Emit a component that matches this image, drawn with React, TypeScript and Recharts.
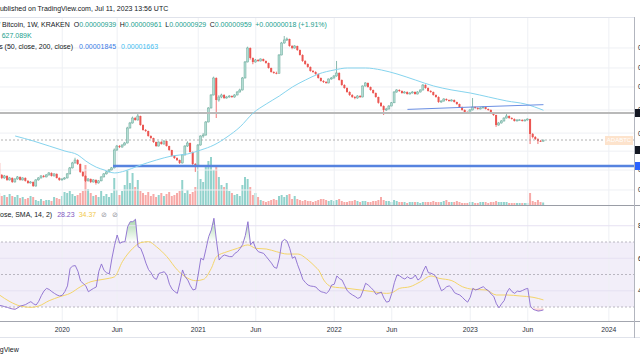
import {
  Area,
  Bar,
  Cell,
  ComposedChart,
  Line,
  ReferenceArea,
  ReferenceLine,
  XAxis,
  YAxis,
} from "recharts";

const FONT = '"Liberation Sans", Arial, sans-serif';
const TEXT = "#131722";
const TEAL = "#22a08e";
const GRID = "#eef0f4";

// weekly ADA/BTC bars, 2019-07-15 .. 2023-07-10, prices in satoshi
const FIRST_OPEN = 627;
const closes = [
  502, 475, 493, 458, 475, 441, 466, 484, 458, 475,
  450, 433, 441, 409, 458, 475, 493, 484, 502, 521,
  493, 512, 475, 458, 466, 475, 512, 572, 627, 662,
  615, 531, 493, 450, 466, 441, 458, 433, 450, 484,
  512, 531, 551, 572, 797, 858, 842, 874, 907, 1198,
  1314, 1441, 1389, 1496, 1266, 1154, 1133, 1033, 995, 924,
  858, 924, 890, 941, 858, 797, 714, 687, 662, 627,
  727, 858, 907, 768, 615, 593, 874, 1033, 1052, 1339,
  1735, 2207, 3024, 2012, 2127, 2207, 2088, 2127, 2166, 2127,
  2207, 2333, 2421, 3024, 4067, 5271, 4379, 4067, 4220, 4143,
  4299, 4143, 3993, 3639, 3380, 3318, 3300, 4630, 5782, 6112,
  6226, 5470, 5271, 5470, 5079, 4630, 4143, 3919, 3710, 3443,
  3380, 3257, 3024, 2861, 2808, 2757, 2968, 3024, 3138, 3318,
  2914, 2656, 2512, 2333, 2207, 2127, 2088, 2166, 2127, 2607,
  2757, 2559, 2421, 2290, 2127, 1909, 1800, 1672, 1703, 1800,
  1909, 2333, 2421, 2377, 2290, 2333, 2248, 2290, 2333, 2248,
  2333, 2421, 2656, 2512, 2377, 2333, 2207, 2127, 1939, 1975,
  2050, 2012, 1975, 2012, 1939, 1868, 1767, 1672, 1611, 1581,
  1672, 1767, 1735, 1703, 1735, 1767, 1703, 1672, 1581, 1524,
  1266, 1314, 1364, 1441, 1496, 1441, 1415, 1364, 1389, 1392,
  1364, 1389, 1415, 1072, 1014, 977, 941, 939, 959,
];
const highs = [
  650, 510, 502, 498, 484, 480, 472, 492, 488, 482,
  480, 455, 448, 445, 464, 482, 500, 502, 510, 530,
  526, 518, 516, 480, 472, 482, 520, 582, 640, 690,
  672, 620, 538, 498, 474, 470, 464, 462, 456, 490,
  520, 540, 560, 582, 820, 875, 872, 885, 925, 1225,
  1340, 1480, 1470, 1581, 1505, 1280, 1175, 1140, 1045, 1000,
  930, 935, 940, 955, 948, 862, 800, 722, 695, 668,
  738, 870, 935, 915, 775, 625, 890, 1045, 1090, 1360,
  1760, 2240, 3100, 3060, 2200, 2260, 2240, 2170, 2200, 2190,
  2240, 2370, 2480, 3080, 4140, 5400, 5320, 4420, 4300, 4290,
  4350, 4330, 4180, 4020, 3660, 3420, 3400, 4700, 5900, 6580,
  6400, 6260, 5560, 5560, 5500, 5120, 4680, 4200, 3960, 3740,
  3500, 3420, 3280, 3050, 2900, 2850, 3000, 3080, 3190, 4143,
  3360, 2940, 2690, 2540, 2360, 2240, 2160, 2200, 2200, 2640,
  2800, 2780, 2580, 2440, 2310, 2140, 1930, 1820, 1740, 1830,
  1940, 2370, 2460, 2450, 2400, 2370, 2360, 2330, 2370, 2360,
  2370, 2450, 2700, 2690, 2540, 2410, 2350, 2230, 2150, 2000,
  2080, 2070, 2030, 2040, 2030, 1950, 1880, 1780, 1690, 1630,
  1700, 2088, 1790, 1760, 1760, 1790, 1780, 1720, 1690, 1600,
  1530, 1340, 1390, 1460, 1581, 1510, 1460, 1430, 1410, 1410,
  1405, 1410, 1430, 1420, 1090, 1030, 990, 960, 961,
];
const lows = [
  490, 465, 468, 450, 452, 433, 436, 460, 452, 452,
  444, 426, 428, 402, 405, 452, 470, 478, 480, 497,
  488, 488, 470, 450, 452, 460, 470, 508, 566, 620,
  605, 522, 484, 440, 444, 432, 436, 420, 428, 446,
  480, 506, 526, 546, 566, 785, 826, 832, 866, 900,
  1185, 1300, 1370, 1375, 1250, 1140, 1115, 1020, 980, 910,
  845, 850, 880, 882, 850, 785, 705, 676, 650, 615,
  620, 720, 845, 760, 600, 531, 585, 865, 1000, 1040,
  1330, 1720, 2190, 1441, 1950, 2080, 2050, 2060, 2100, 2090,
  2100, 2190, 2310, 2400, 3000, 4040, 4250, 3900, 4020, 4080,
  4100, 4100, 3940, 3600, 3340, 3270, 3240, 3290, 4600, 5700,
  6000, 5400, 5150, 5200, 5000, 4580, 4080, 3860, 3660, 3400,
  3330, 3210, 2990, 2830, 2760, 2720, 2740, 2930, 2990, 3100,
  2880, 2620, 2480, 2300, 2170, 2090, 2040, 2060, 2090, 2110,
  2580, 2530, 2390, 2260, 2100, 1880, 1770, 1524, 1640, 1690,
  1790, 1900, 2300, 2340, 2260, 2270, 2220, 2230, 2270, 2220,
  2230, 2310, 2400, 2480, 2350, 2300, 2180, 2100, 1910, 1910,
  1950, 1980, 1950, 1960, 1920, 1840, 1740, 1650, 1590, 1560,
  1570, 1660, 1710, 1680, 1690, 1720, 1690, 1650, 1560, 1500,
  1223, 1250, 1300, 1350, 1430, 1420, 1400, 1350, 1355, 1370,
  1350, 1355, 1375, 890, 990, 960, 890, 925, 929,
];
// volume in thousands
const volumesK = [
  3000, 2250, 2500, 2000, 2750, 2250, 2000, 2500, 1750, 2000,
  1500, 1750, 2250, 2000, 1250, 1000, 1500, 1000, 1250, 1250,
  1000, 2000, 1750, 1500, 2250, 3250, 3000, 3500, 2750, 2250,
  2500, 3000, 3500, 10000, 4000, 3000, 2250, 2500, 2000, 3500,
  2250, 2750, 2000, 3000, 6750, 3750, 2500, 3500, 5000, 8750,
  5500, 8000, 4500, 6250, 3500, 3000, 2500, 3250, 2250, 2750,
  2000, 2500, 3000, 2250, 2750, 3250, 2250, 2500, 3000, 3500,
  6250, 3000, 3750, 2750, 3250, 4500, 10500, 6500, 5750, 9500,
  11000, 12000, 8750, 10000, 7000, 5000, 4500, 5500, 3500, 3000,
  2500, 2750, 2250, 5000, 7000, 6500, 4500, 2500, 3000, 2000,
  1250, 1000, 750, 1000, 1250, 1500, 1250, 2250, 2500, 2000,
  2500, 2750, 1500, 2250, 1500, 1250, 1000, 1250, 1000, 1000,
  750, 1000, 1250, 1500, 1500, 1250, 1000, 1250, 1000, 1250,
  1500, 1000, 750, 750, 1000, 1000, 1250, 1000, 750, 1000,
  1000, 750, 750, 1000, 1000, 1250, 2000, 1250, 1000, 1000,
  750, 1250, 1000, 750, 750, 750, 500, 750, 750, 750,
  750, 500, 750, 750, 750, 750, 1000, 750, 750, 750,
  1000, 1250, 750, 750, 750, 1000, 750, 500, 500, 500,
  750, 750, 500, 500, 750, 750, 750, 500, 750, 750,
  1000, 750, 750, 750, 750, 500, 500, 500, 500, 500,
  500, 500, 500, 3000, 1000, 750, 1250, 750, 627.089,
];
const rsi14 = [
  31, 30.7, 30.2, 29.8, 29.2, 28.8, 28.6, 29.5, 30.6, 31,
  31.5, 32.5, 33.3, 32, 31.2, 33.5, 37, 39.8, 41.5, 40.8,
  39.5, 38.4, 37.4, 36.8, 37.2, 39.5, 43, 53.8, 55.2, 55.5,
  52, 46, 44.5, 43, 39.4, 40.5, 41.5, 42.3, 52, 56.5,
  52.5, 51, 50.5, 60, 68, 74.3, 69.2, 70, 70.2, 79.4,
  82.5, 82.5, 84, 67.1, 66.1, 62, 57, 53, 51, 48,
  47, 50.7, 51.2, 51.7, 49.7, 44, 41, 39.5, 38.4, 45,
  52.8, 48.6, 46.6, 43, 40.5, 41, 50, 60, 59, 66,
  73.3, 77.4, 84.6, 70.2, 58.9, 61, 62, 61.5, 61, 61,
  63, 64, 66, 68.5, 74, 82.5, 68.2, 70.2, 66, 64,
  63.5, 63, 61, 59, 57, 54.5, 53.8, 60, 70.2, 71.6,
  70.5, 66, 60, 61, 56, 51.7, 47, 45, 43.5, 42.9,
  42.7, 42.3, 40.5, 39.4, 39, 38.4, 40, 43.5, 44, 49.1,
  47.5, 46.6, 43.2, 40, 38.5, 37.4, 36.5, 35.3, 36, 40,
  44.6, 43.5, 42, 40.3, 37.8, 38.5, 39.2, 35.5, 33, 33.5,
  38.4, 45, 49.7, 49.2, 48, 47.2, 48.6, 47.5, 47.8, 49.7,
  46.6, 47.8, 52, 55.2, 51.1, 50.8, 50, 48.6, 44, 40,
  41, 42.5, 43, 41.5, 38.8, 38, 37.4, 36, 34.3, 33,
  36, 41.5, 40.5, 41, 41.8, 42.5, 41, 40, 38, 36.5,
  32, 29.5, 32, 34, 39, 41.5, 39.4, 38.4, 39.8, 39.5,
  40.2, 41, 41.5, 30.6, 28.6, 28, 27.5, 27.8, 28.23,
];

// averages as [bar, value]
const maSlow = [
  [6, 1033], [13, 941], [19, 858], [25, 782], [30, 727], [33, 650], [37, 580],
  [40, 551], [44, 521], [48, 541], [53, 593], [60, 662], [66, 714], [72, 741],
  [77, 797], [82, 874], [87, 1014], [92, 1223], [97, 1581], [102, 1868],
  [107, 2166], [112, 2559], [117, 2914], [122, 3257], [128, 3507], [133, 3639],
  [140, 3639], [146, 3507], [152, 3257], [159, 2914], [166, 2607], [173, 2421],
  [180, 2290], [187, 2127], [194, 1975], [201, 1868], [208, 1663],
];
const maFast = [[156, 1690], [182, 1770], [208, 1845]];
const rsiMa = [
  [0, 37.4], [4, 33.3], [8, 30.6], [12, 29.8], [15, 30.6], [19, 33.9], [23, 36.3],
  [27, 38.4], [31, 42.5], [35, 45.6], [38, 46.6], [42, 47.7], [44, 48.6],
  [47, 57.9], [51, 66.1], [54, 69.6], [57, 70.2], [60, 67.1], [64, 61],
  [68, 52.8], [72, 47.7], [75, 46.2], [78, 47], [81, 53.8], [83, 61], [87, 64],
  [91, 66.1], [95, 68.2], [98, 66.1], [102, 65.7], [106, 64], [110, 62.6],
  [114, 62.6], [118, 58.9], [121, 54.4], [122, 52.8], [124, 46.6], [127, 42.5],
  [133, 41.5], [138, 40.5], [143, 39.4], [148, 38.4], [150, 38.8], [153, 41.5],
  [157, 42.5], [161, 45.6], [165, 49.1], [168, 47.7], [173, 46.2], [177, 42.5],
  [181, 40.9], [186, 40.5], [190, 37.4], [194, 37.4], [199, 36.8], [204, 36],
  [208, 34.37],
];

const TICK_BARS = [24, 45, 76, 98, 128, 150, 180, 202, 233];
const TICK_LABELS = ["2020", "Jun", "2021", "Jun", "2022", "Jun", "2023", "Jun", "2024"];
const PRICE_TICKS = [5270, 3640, 2560, 1670, 1090, 780, 550, 380];
const RSI_GRID = [40, 60, 80];
const RSI_BANDS = [30, 50, 70];

const RESISTANCE = 1581;
const SUPPORT = 593;
const SUPPORT_FROM = 43.4;
const LAST = 959;

const X_DOMAIN: [number, number] = [0.2, 243];
const PRICE_DOMAIN: [number, number] = [287.8, 9355];
const VOL_DOMAIN: [number, number] = [0, 47000];
const RSI_DOMAIN: [number, number] = [21.4, 92.15];

const bars = closes.map((close, i) => {
  const open = i === 0 ? FIRST_OPEN : closes[i - 1];
  return {
    i,
    open,
    close,
    high: highs[i],
    low: lows[i],
    range: [lows[i], highs[i]],
    vol: volumesK[i],
    up: close >= open,
    rsi: rsi14[i],
  };
});
const toRows = (pts: number[][]) => pts.map(([i, v]) => ({ i, v }));

function Candle(props: any) {
  const { x, y, width, height, payload } = props;
  if (!payload || !Number.isFinite(y) || !Number.isFinite(height)) return null;
  const { open, close, high, low } = payload;
  const span = Math.log(high / low) || 1;
  // the bar spans low..high on the log scale, so open/close sit proportionally in log space
  const at = (v: number) => y + (height * Math.log(high / v)) / span;
  const up = close >= open;
  const top = at(Math.max(open, close));
  const bottom = at(Math.min(open, close));
  const cx = x + width / 2;
  return (
    <g>
      <line x1={cx} x2={cx} y1={y} y2={y + height} stroke={up ? "#6aa89a" : "#ef5350"} strokeWidth={0.8} />
      <rect
        x={x}
        y={top}
        width={width}
        height={Math.max(0.8, bottom - top)}
        fill={up ? "#b3ddd3" : "#eb5652"}
        stroke={up ? "#6aa89a" : "none"}
        strokeWidth={0.5}
      />
    </g>
  );
}

const abs = (style: React.CSSProperties): React.CSSProperties => ({ position: "absolute", ...style });
const row: React.CSSProperties = {
  position: "absolute",
  whiteSpace: "nowrap",
  fontSize: 7,
  lineHeight: "8px",
  color: TEXT,
  display: "flex",
};

export default function App() {
  return (
    <div
      style={{
        position: "fixed",
        left: 0,
        top: 0,
        width: 640,
        height: 360,
        overflow: "hidden",
        background: "#fff",
        fontFamily: FONT,
      }}
    >
      {/* grid + volume */}
      <div style={abs({ left: 0, top: 17 })}>
        <ComposedChart width={700} height={188} data={bars} margin={{ top: 0, right: 65, bottom: 0, left: 0 }}>
          <XAxis type="number" dataKey="i" domain={X_DOMAIN} allowDataOverflow hide />
          <YAxis yAxisId="p" scale="log" domain={PRICE_DOMAIN} allowDataOverflow hide />
          <YAxis yAxisId="v" domain={VOL_DOMAIN} allowDataOverflow hide />
          {TICK_BARS.map((t) => (
            <ReferenceLine key={`x${t}`} yAxisId="p" x={t} stroke={GRID} />
          ))}
          {PRICE_TICKS.map((p) => (
            <ReferenceLine key={`y${p}`} yAxisId="p" y={p} stroke={GRID} />
          ))}
          <Bar yAxisId="v" dataKey="vol" barSize={2} isAnimationActive={false}>
            {bars.map((b) => (
              <Cell key={b.i} fill={b.up ? "#92d2cc" : "#f7a9a7"} />
            ))}
          </Bar>
        </ComposedChart>
      </div>

      {/* price */}
      <div style={abs({ left: 0, top: 17 })}>
        <ComposedChart width={700} height={188} data={bars} margin={{ top: 0, right: 0, bottom: 0, left: 0 }}>
          <XAxis type="number" dataKey="i" domain={X_DOMAIN} allowDataOverflow hide />
          <YAxis
            yAxisId="p"
            orientation="right"
            width={65}
            scale="log"
            domain={PRICE_DOMAIN}
            allowDataOverflow
            ticks={PRICE_TICKS}
            tickFormatter={(v: number) => (v / 1e8).toFixed(7)}
            tick={{ fontSize: 6.8, fill: TEXT }}
            tickLine={false}
            axisLine={false}
            tickSize={0}
            tickMargin={3}
          />
          <ReferenceLine yAxisId="p" y={RESISTANCE} stroke="#b9b9b9" strokeWidth={2.2} />
          <ReferenceLine yAxisId="p" y={LAST} stroke="#9e9e9e" strokeDasharray="2 2" strokeWidth={0.8} />
          <ReferenceLine
            yAxisId="p"
            segment={[
              { x: SUPPORT_FROM, y: SUPPORT },
              { x: X_DOMAIN[1], y: SUPPORT },
            ]}
            stroke="#5683df"
            strokeWidth={2.6}
          />
          <Bar yAxisId="p" dataKey="range" barSize={2} shape={Candle} isAnimationActive={false} />
          <Line
            yAxisId="p"
            data={toRows(maSlow)}
            dataKey="v"
            type="monotone"
            stroke="#86d4ee"
            strokeWidth={1}
            dot={false}
            isAnimationActive={false}
          />
          <Line
            yAxisId="p"
            data={toRows(maFast)}
            dataKey="v"
            type="monotone"
            stroke="#6b8fe3"
            strokeWidth={1}
            dot={false}
            isAnimationActive={false}
          />
        </ComposedChart>
      </div>

      {/* RSI */}
      <div style={abs({ left: 0, top: 206 })}>
        <ComposedChart width={700} height={133} data={bars} margin={{ top: 0, right: 0, bottom: 0, left: 0 }}>
          <defs>
            <linearGradient id="obFill" x1="0" y1="0" x2="0" y2="1">
              <stop offset="0%" stopColor="#4caf50" stopOpacity={0.5} />
              <stop offset="100%" stopColor="#4caf50" stopOpacity={0} />
            </linearGradient>
            <linearGradient id="osFill" x1="0" y1="0" x2="0" y2="1">
              <stop offset="0%" stopColor="#ef5350" stopOpacity={0} />
              <stop offset="100%" stopColor="#ef5350" stopOpacity={0.4} />
            </linearGradient>
          </defs>
          <XAxis
            type="number"
            dataKey="i"
            domain={X_DOMAIN}
            allowDataOverflow
            ticks={TICK_BARS}
            interval={0}
            tickFormatter={(v: number) => TICK_LABELS[TICK_BARS.indexOf(v)] ?? ""}
            tick={{ fontSize: 6.8, fill: "#2a2e39" }}
            tickLine={false}
            axisLine={false}
            tickSize={4}
            tickMargin={2}
            height={18}
          />
          <YAxis
            orientation="right"
            width={65}
            domain={RSI_DOMAIN}
            allowDataOverflow
            ticks={RSI_GRID}
            tick={{ fontSize: 6.8, fill: TEXT }}
            tickLine={false}
            axisLine={false}
            tickSize={0}
            tickMargin={3}
          />
          <ReferenceArea y1={30} y2={70} fill="#7e57c2" fillOpacity={0.1} stroke="none" />
          {TICK_BARS.map((t) => (
            <ReferenceLine key={`x${t}`} x={t} stroke={GRID} />
          ))}
          {RSI_GRID.map((g) => (
            <ReferenceLine key={`g${g}`} y={g} stroke="#e6e1f2" />
          ))}
          {RSI_BANDS.map((g) => (
            <ReferenceLine key={`b${g}`} y={g} stroke="#a9a7b3" strokeDasharray="2 2" strokeWidth={0.8} />
          ))}
          <Area
            dataKey={(d: any) => [70, Math.max(70, d.rsi)]}
            stroke="none"
            fill="url(#obFill)"
            fillOpacity={1}
            isAnimationActive={false}
          />
          <Area
            dataKey={(d: any) => [Math.min(30, d.rsi), 30]}
            stroke="none"
            fill="url(#osFill)"
            fillOpacity={1}
            isAnimationActive={false}
          />
          <Line
            data={toRows(rsiMa)}
            dataKey="v"
            type="monotone"
            stroke="#f4d56a"
            strokeWidth={1}
            dot={false}
            isAnimationActive={false}
          />
          <Line dataKey="rsi" type="linear" stroke="#8a6ccf" strokeWidth={0.9} dot={false} isAnimationActive={false} />
        </ComposedChart>
      </div>

      {/* frame lines */}
      <div style={abs({ left: 0, top: 17, width: 635, height: 1, background: "#e0e3eb" })} />
      <div style={abs({ left: 0, top: 205, width: 640, height: 1, background: "#9a9da6" })} />
      <div style={abs({ left: 0, top: 321, width: 640, height: 1, background: "#a3a6af" })} />
      <div style={abs({ left: 0, top: 337, width: 640, height: 1, background: "#e0e3eb" })} />
      <div style={abs({ left: 634, top: 17, width: 1, height: 321, background: "#b2b5be" })} />

      {/* price scale labels (cut off by the frame) */}
      <div style={abs({ left: 635, top: 109, width: 8, height: 8, background: TEXT })} />
      <div style={abs({ left: 635, top: 146, width: 8, height: 8, background: TEXT })} />
      <div style={abs({ left: 635, top: 162, width: 8, height: 8, background: "#2962ff" })} />
      <div
        style={abs({
          left: 605,
          top: 136,
          width: 28,
          height: 9,
          background: "#fde3cc",
          color: "#fff",
          fontSize: 6,
          lineHeight: "9px",
          textAlign: "center",
        })}
      >
        ADABTC
      </div>

      {/* legends */}
      <div style={{ ...row, left: -4.7, top: 5 }}>Published on TradingView.com, Jul 11, 2023 13:56 UTC</div>
      <div style={{ ...row, left: -30.6, top: 21 }}>
        <span>Cardano / Bitcoin, 1W, KRAKEN</span>
        <span style={{ marginLeft: 4 }}>
          O<span style={{ color: TEAL }}>0.00000939</span>
        </span>
        <span style={{ marginLeft: 3.5 }}>
          H<span style={{ color: TEAL }}>0.00000961</span>
        </span>
        <span style={{ marginLeft: 3.5 }}>
          L<span style={{ color: TEAL }}>0.00000929</span>
        </span>
        <span style={{ marginLeft: 3.5 }}>
          C<span style={{ color: TEAL }}>0.00000959</span>
        </span>
        <span style={{ marginLeft: 3.5, color: TEAL }}>+0.00000018 (+1.91%)</span>
      </div>
      <div style={{ ...row, left: -10, top: 32 }}>
        <span>Vol&nbsp;</span>
        <span style={{ color: TEAL }}>627.089K</span>
      </div>
      <div style={{ ...row, left: -27.7, top: 43 }}>
        <span>MA Cross (50, close, 200, close)</span>
        <span style={{ marginLeft: 6, color: "#3a7be6" }}>0.00001845</span>
        <span style={{ marginLeft: 5, color: "#45bdf0" }}>0.00001663</span>
      </div>
      <div style={{ ...row, left: -32.7, top: 211 }}>
        <span>RSI (14, close, SMA, 14, 2)</span>
        <span style={{ marginLeft: 5, color: "#7e57c2" }}>28.23</span>
        <span style={{ marginLeft: 4, color: "#f2c94c" }}>34.37</span>
        <span style={{ marginLeft: 5, color: "#9598a1" }}>⊘</span>
        <span style={{ marginLeft: 5, color: "#9598a1" }}>⊘</span>
      </div>
      <div style={{ ...row, left: -19.8, top: 346 }}>TradingView</div>
    </div>
  );
}
